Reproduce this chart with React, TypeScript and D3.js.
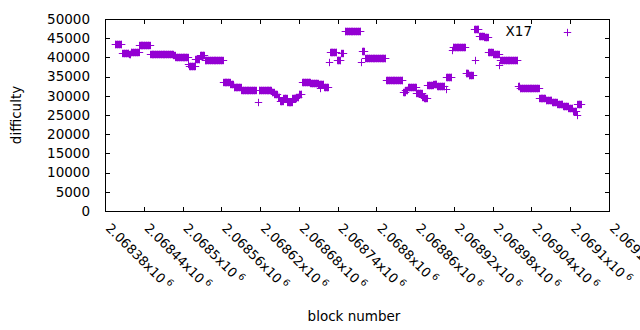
import React, { useEffect, useRef } from 'react';
import * as d3 from 'd3';

// difficulty stays constant inside a run of blocks: [runStart, runEnd] -> runDifficulty
const runStart = [
  2068395, 2068407, 2068417, 2068420, 2068433, 2068450, 2068486, 2068489, 2068509, 2068510,
  2068520, 2068527, 2068534, 2068563, 2068574, 2068579, 2068591, 2068617, 2068618, 2068638,
  2068642, 2068647, 2068651, 2068656, 2068662, 2068670, 2068676, 2068680, 2068685, 2068698,
  2068710, 2068713, 2068719, 2068726, 2068728, 2068739, 2068746, 2068751, 2068776, 2068778,
  2068783, 2068815, 2068841, 2068845, 2068849, 2068862, 2068871, 2068874, 2068879, 2068888,
  2068894, 2068907, 2068908, 2068917, 2068918, 2068938, 2068943, 2068952, 2068951, 2068959,
  2068967, 2068973, 2068981, 2068990, 2068992, 2069019, 2069022, 2069052, 2069062, 2069072,
  2069080, 2069089, 2069097, 2069104, 2069110, 2069111,
];
const runEnd = [
  2068405, 2068416, 2068419, 2068432, 2068449, 2068485, 2068488, 2068508, 2068509, 2068519,
  2068526, 2068533, 2068562, 2068573, 2068578, 2068590, 2068613, 2068617, 2068637, 2068641,
  2068646, 2068650, 2068655, 2068661, 2068669, 2068675, 2068679, 2068684, 2068697, 2068709,
  2068718, 2068713, 2068725, 2068726, 2068738, 2068744, 2068748, 2068775, 2068776, 2068781,
  2068814, 2068840, 2068844, 2068848, 2068861, 2068870, 2068873, 2068878, 2068887, 2068893,
  2068905, 2068907, 2068916, 2068917, 2068937, 2068942, 2068949, 2068952, 2068958, 2068966,
  2068972, 2068980, 2068989, 2068990, 2069018, 2069021, 2069051, 2069061, 2069071, 2069079,
  2069088, 2069096, 2069103, 2069109, 2069110, 2069116,
];
const runDifficulty = [
  43400, 41200, 40800, 41300, 43100, 41000, 40600, 40000, 38300, 37700,
  39600, 40500, 39200, 33700, 33200, 32300, 31400, 28500, 31600, 31100,
  30400, 29700, 28600, 29400, 28500, 29300, 29800, 30500, 33500, 33300,
  33000, 32000, 32300, 38900, 41300, 39300, 41100, 47000, 38800, 41600,
  39800, 34000, 30900, 31600, 32200, 30600, 29800, 29500, 32900, 33100,
  32500, 31900, 35000, 42000, 42600, 35900, 35400, 39300, 47300, 45700,
  45200, 41500, 40900, 37900, 39200, 32600, 32000, 29300, 28900, 28400,
  27900, 27300, 26700, 26100, 25000, 27800,
];

const xTicks = [
  2068380, 2068440, 2068500, 2068560, 2068620, 2068680, 2068740,
  2068800, 2068860, 2068920, 2068980, 2069040, 2069100, 2069160,
];
const yTicks = [0, 5000, 10000, 15000, 20000, 25000, 30000, 35000, 40000, 45000, 50000];
const seriesName = 'X17';

const W = 640;
const H = 330;
const margin = { left: 105, right: 31, top: 19, bottom: 119 };
const color = '#9400d3';
const font = '"DejaVu Sans", sans-serif';

const Chart: React.FC = () => {
  const svgRef = useRef<SVGSVGElement>(null);

  useEffect(() => {
    if (!svgRef.current) return;
    const svg = d3.select(svgRef.current);
    svg.selectAll('*').remove();

    const x0 = margin.left;
    const x1 = W - margin.right;
    const y0 = H - margin.bottom;
    const y1 = margin.top;

    const xScale = d3.scaleLinear().domain([xTicks[0], xTicks[xTicks.length - 1]]).range([x0, x1]);
    const yScale = d3.scaleLinear().domain([0, 50000]).range([y0, y1]);

    const points: { block: number; diff: number }[] = [];
    runStart.forEach((s, i) => {
      for (let b = s; b <= runEnd[i]; b++) points.push({ block: b, diff: runDifficulty[i] });
    });

    const r = 3.7;
    const plus = (cx: number, cy: number) =>
      `M${cx - r},${cy}H${cx + r}M${cx},${cy - r}V${cy + r}`;
    const px = (v: number) => Math.round(v) + 0.5;

    // points
    svg.append('g')
      .selectAll('path')
      .data(points)
      .enter()
      .append('path')
      .attr('d', d => plus(px(xScale(d.block)), px(yScale(d.diff))))
      .attr('stroke', color)
      .attr('stroke-width', 1)
      .attr('fill', 'none');

    const tl = 4.5;
    const axis = svg.append('g').attr('stroke', '#000').attr('stroke-width', 1);

    // y ticks, both sides, inward
    yTicks.forEach(t => {
      const y = px(yScale(t));
      axis.append('line').attr('x1', x0 + 0.5).attr('x2', x0 + 0.5 + tl).attr('y1', y).attr('y2', y);
      axis.append('line').attr('x1', x1 + 0.5).attr('x2', x1 + 0.5 - tl).attr('y1', y).attr('y2', y);
    });
    // x ticks, top and bottom
    xTicks.forEach(t => {
      const x = px(xScale(t));
      axis.append('line').attr('x1', x).attr('x2', x).attr('y1', y0 + 0.5).attr('y2', y0 + 0.5 - tl);
      axis.append('line').attr('x1', x).attr('x2', x).attr('y1', y1 + 0.5).attr('y2', y1 + 0.5 + tl);
    });

    axis.append('rect')
      .attr('x', x0 + 0.5)
      .attr('y', y1 + 0.5)
      .attr('width', x1 - x0)
      .attr('height', y0 - y1)
      .attr('fill', 'none');

    const txt = svg.append('g').attr('font-family', font).attr('fill', '#000');

    txt.selectAll('text.ylab')
      .data(yTicks)
      .enter()
      .append('text')
      .attr('x', x0 - 15)
      .attr('y', d => yScale(d))
      .attr('dy', '0.36em')
      .attr('text-anchor', 'end')
      .attr('font-size', 13.5)
      .text(d => d);

    const xl = txt.selectAll('text.xlab')
      .data(xTicks)
      .enter()
      .append('text')
      .attr('font-size', 13)
      .attr('transform', d => `translate(${xScale(d)},${y0 + 18}) rotate(45)`);
    xl.append('tspan').text(d => `${Number((d / 1e6).toPrecision(6))}x10`);
    xl.append('tspan').attr('dx', 3).attr('dy', -5).attr('font-size', 9.5).text('6');

    txt.append('text')
      .attr('transform', `translate(21,${(y0 + y1) / 2}) rotate(-90)`)
      .attr('text-anchor', 'middle')
      .attr('font-size', 13.5)
      .text('difficulty');

    txt.append('text')
      .attr('x', (x0 + x1) / 2 - 3)
      .attr('y', 321)
      .attr('text-anchor', 'middle')
      .attr('font-size', 13.5)
      .text('block number');

    // legend
    txt.append('text')
      .attr('x', 532)
      .attr('y', 31)
      .attr('dy', '0.36em')
      .attr('text-anchor', 'end')
      .attr('font-size', 13.5)
      .text(seriesName);
    svg.append('path')
      .attr('d', plus(567.5, 32.5))
      .attr('stroke', color)
      .attr('stroke-width', 1)
      .attr('fill', 'none');
  }, []);

  return <svg ref={svgRef} width={W} height={H} style={{ display: 'block', background: '#fff' }} />;
};

export default function App() {
  return (
    <div style={{ position: 'absolute', left: 0, top: 0 }}>
      <Chart />
    </div>
  );
}
